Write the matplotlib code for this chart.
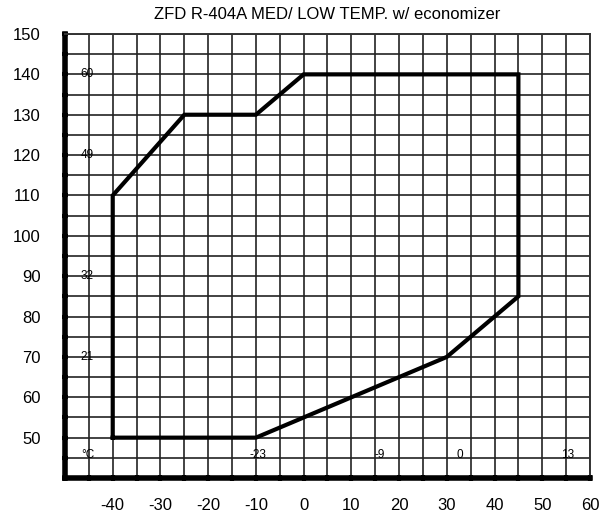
import matplotlib
matplotlib.use("Agg")
import matplotlib.pyplot as plt
import numpy as np

plt.rcParams['font.family'] = ['Liberation Sans', 'DejaVu Sans']
plt.rcParams['axes.unicode_minus'] = False

title = "ZFD R-404A MED/ LOW TEMP. w/ economizer"

# Envelope polygon (evaporating temp F, condensing temp F)
env_x = [-40, -10, 30, 45, 45, 0, -10, -25, -40, -40]
env_y = [50, 50, 70, 85, 140, 140, 130, 130, 110, 50]

# Celsius annotations
c_left_labels = ["60", "49", "32", "21"]
c_left_y = [140, 120, 90, 70]
c_bottom_labels = ["°C", "-23", "-9", "0", "13"]
c_bottom_x = [-45.3, -9.6, 16, 32.8, 55.4]

x_ticks = list(range(-40, 61, 10))
y_ticks = list(range(50, 151, 10))

fig = plt.figure(figsize=(6.03, 5.16), dpi=100)
ax = fig.add_axes([0.1078, 0.0736, 0.8706, 0.8605])
ax.set_xlim(-50, 60)
ax.set_ylim(40, 150)

# grid every 5 units
for gx in np.arange(-45, 61, 5):
    ax.axvline(gx, color='#222222', lw=1.4, alpha=0.85, zorder=1)
for gy in np.arange(45, 151, 5):
    ax.axhline(gy, color='#222222', lw=1.4, alpha=0.85, zorder=1)

ax.plot(env_x, env_y, color='black', lw=3, solid_joinstyle='miter', zorder=3)

for lab, yy in zip(c_left_labels, c_left_y):
    ax.text(-45.4, yy, lab, fontsize=8.5, ha='center', va='center', zorder=4)
for lab, xx in zip(c_bottom_labels, c_bottom_x):
    ax.text(xx, 45.6, lab, fontsize=8.5, ha='center', va='center', zorder=4)

ax.set_xticks(x_ticks)
ax.set_yticks(y_ticks)
ax.set_xticks(np.arange(-50, 61, 5), minor=True)
ax.set_yticks(np.arange(40, 151, 5), minor=True)
ax.tick_params(axis='both', which='both', direction='inout', length=5, width=3, color='black')
ax.tick_params(axis='x', which='major', pad=12, labelsize=12)
ax.tick_params(axis='y', which='major', pad=15, labelsize=12)

for side in ['left', 'bottom']:
    ax.spines[side].set_linewidth(4)
for side in ['top', 'right']:
    ax.spines[side].set_linewidth(1.4)
    ax.spines[side].set_color('#333333')

fig.text(0.542, 0.972, title, fontsize=12, ha='center', va='center')

fig.savefig('out.png', dpi=100)
